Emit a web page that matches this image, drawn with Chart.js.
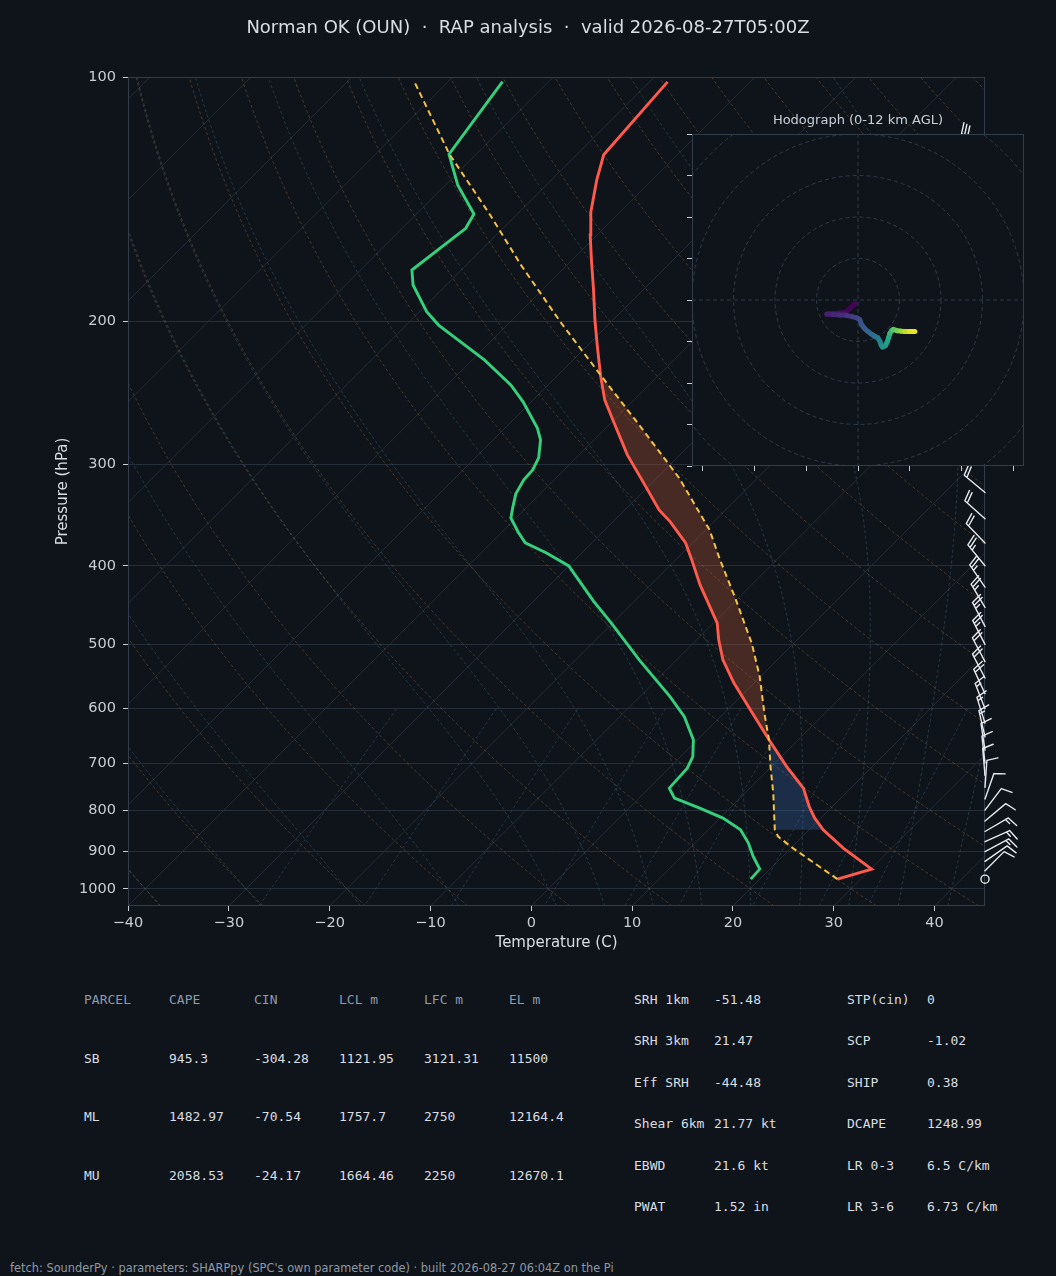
<!DOCTYPE html>
<html lang="en">
<head>
<meta charset="UTF-8" />
<title>Norman OK (OUN) sounding</title>
<script src="https://cdn.jsdelivr.net/npm/chart.js"></script>
<style>
  body { margin: 0; background: #0f141a; font-family: "DejaVu Sans", sans-serif; }
  #page { position: relative; width: 1056px; height: 1276px; overflow: hidden; background: #0f141a; }
  #skewt { position: absolute; left: 0; top: 0; }
  #hodo { position: absolute; left: 680px; top: 105px; }
  .title { position: absolute; left: 0; top: 16px; width: 1056px; text-align: center;
           font-size: 18px; line-height: 22px; color: #d9dee4; white-space: pre; }
  .hodo-title { position: absolute; left: 758px; top: 112px; width: 200px; text-align: center;
                font-size: 13px; line-height: 16px; color: #c9d0d8; }
  .cell { position: absolute; font-family: "DejaVu Sans Mono", monospace; font-size: 13px;
          line-height: 16px; color: #d9dee4; white-space: pre; }
  .head { color: #8b9bb0; }
  .footer { position: absolute; left: 10px; top: 1262px; font-size: 11.4px; line-height: 13px;
            color: #8e99a6; white-space: pre; }
</style>
</head>
<body>
<div id="page">
  <canvas id="skewt" width="1056" height="960"></canvas>
  <canvas id="hodo" width="350" height="370"></canvas>
  <div class="title">Norman OK (OUN)  ·  RAP analysis  ·  valid 2026-08-27T05:00Z</div>
  <div class="hodo-title">Hodograph (0-12 km AGL)</div>
  <div id="tables"></div>
  <div class="footer">fetch: SounderPy · parameters: SHARPpy (SPC's own parameter code) · built 2026-08-27 06:04Z on the Pi</div>
</div>

<script>
  // ---- sounding profile (hPa, deg C) ----
  const tempP = [972.9, 945.7, 891.0, 846.0, 818.4, 791.9, 751.6, 707.0, 655.4, 602.1, 558.0, 522.4, 493.6, 470.8,
                 422.3, 393.4, 374.9, 353.2, 341.4, 318.0, 292.1, 268.3, 249.9, 232.8, 213.8, 199.2, 183.0, 168.0,
                 156.5, 146.7, 133.9, 124.7, 101.4];
  const tempC = [27.7, 30.1, 25.2, 21.4, 19.4, 17.7, 15.3, 11.5, 7.1, 2.3, -2.0, -5.4, -7.8, -9.6,
                 -15.1, -18.4, -20.7, -24.3, -26.6, -30.5, -35.2, -39.4, -42.9, -45.8, -49.1, -51.8, -54.9, -58.1,
                 -60.7, -62.9, -65.5, -67.3, -68.2];

  const dewP = [972.9, 945.7, 912.5, 878.5, 846.0, 818.4, 795.5, 773.1, 751.6, 710.2, 687.2, 655.4, 613.6, 579.8,
                522.4, 470.8, 441.9, 418.8, 400.2, 385.7, 374.9, 363.4, 349.3, 338.5, 326.2, 313.5, 304.8, 294.6,
                279.9, 270.6, 251.3, 239.5, 223.1, 202.1, 194.6, 180.4, 172.9, 153.6, 147.5, 135.8, 124.5, 101.3];
  const dewC = [19.1, 19.0, 17.1, 15.3, 13.2, 10.3, 7.0, 3.5, 2.0, 1.8, 1.2, -0.4, -3.6, -7.0,
                -13.7, -20.1, -24.1, -27.3, -30.0, -33.5, -36.6, -38.4, -40.5, -41.4, -42.4, -43.0, -43.1, -43.7,
                -45.3, -46.8, -50.8, -53.7, -58.8, -66.8, -69.3, -73.3, -74.9, -73.7, -74.3, -78.8, -82.7, -84.6];

  // surface-based parcel path
  const parcelP = [972.9, 891.0, 862.3, 846.0, 762.2, 707.0, 655.4, 607.7, 547.7, 498.2, 436.6, 393.4, 361.4,
                   311.7, 268.3, 232.8, 200.4, 170.4, 147.9, 124.4, 101.6];
  const parcelC = [27.7, 20.2, 17.6, 16.6, 12.8, 9.9, 7.1, 4.0, -0.1, -4.2, -10.5, -15.6, -19.6,
                   -27.8, -37.0, -45.8, -55.0, -64.6, -72.6, -82.7, -93.2];
  const lclP = 846.0, lfcP = 655.4, elP = 232.8;

  // ---- winds (u, v in m/s, height km AGL) ----
  const windP = [973, 950, 925, 900, 875, 850, 825, 800, 775, 750, 725, 700, 675, 650, 625, 600, 575, 550,
                 525, 500, 475, 450, 425, 400, 375, 350, 325, 300, 275, 250, 225, 200, 175, 150, 122];
  const windH = [0, 0.21, 0.44, 0.67, 0.91, 1.16, 1.41, 1.66, 1.93, 2.2, 2.48, 2.77, 3.06, 3.37, 3.69, 4.02, 4.36, 4.71,
                 5.08, 5.46, 5.85, 6.26, 6.69, 7.15, 7.62, 8.12, 8.65, 9.22, 9.82, 10.47, 11.17, 11.95, 12.8, 13.8, 15.3];
  const windU = [-0.7, -3.0, -4.6, -6.2, -7.5, -6.0, -4.3, -2.8, -1.4, -0.3, 0.4, 0.6, 0.9, 1.6, 2.4, 3.2, 4.0, 4.8,
                 5.3, 5.6, 5.9, 6.6, 7.0, 7.4, 7.7, 8.2, 8.5, 9.4, 10.3, 11.2, 12.4, 13.7, 15.0, 16.0, 14.0];
  const windV = [-0.8, -3.0, -3.2, -3.3, -3.4, -3.5, -3.6, -3.7, -4.0, -4.3, -4.7, -5.2, -6.0, -6.9, -7.6, -8.2, -8.7, -9.2,
                 -10.0, -10.9, -11.3, -11.0, -10.2, -9.0, -8.0, -7.3, -7.1, -7.4, -7.5, -7.6, -7.6, -7.6, -7.0, -6.0, -8.0];

  // ---- ticks ----
  const pTicks = [100, 200, 300, 400, 500, 600, 700, 800, 900, 1000];
  const tTicks = [-40, -30, -20, -10, 0, 10, 20, 30, 40];
  const hodoXTicks = [-37.5, -25, -12.5, 0, 12.5, 25, 37.5];
  const hodoYTicks = [-40, -30, -20, -10, 0, 10, 20, 30, 40];
  const hodoRings = [10, 20, 30, 40, 50, 60];

  // ---- parameter tables ----
  const parcelHead = ['PARCEL', 'CAPE', 'CIN', 'LCL m', 'LFC m', 'EL m'];
  const parcelRows = [
    ['SB', '945.3', '-304.28', '1121.95', '3121.31', '11500'],
    ['ML', '1482.97', '-70.54', '1757.7', '2750', '12164.4'],
    ['MU', '2058.53', '-24.17', '1664.46', '2250', '12670.1']
  ];
  const kinParams = [['SRH 1km', '-51.48'], ['SRH 3km', '21.47'], ['Eff SRH', '-44.48'],
                     ['Shear 6km', '21.77 kt'], ['EBWD', '21.6 kt'], ['PWAT', '1.52 in']];
  const thermoParams = [['STP(cin)', '0'], ['SCP', '-1.02'], ['SHIP', '0.38'],
                        ['DCAPE', '1248.99'], ['LR 0-3', '6.5 C/km'], ['LR 3-6', '6.73 C/km']];

  // ---- skew-T geometry ----
  const xMin = -40, xMax = 45, pTop = 100, pBot = 1050;
  const SKEW = 82.2;  // deg C of x shift from bottom to top (45 degree isotherms)
  const skewX = (t, p) => t + SKEW * Math.log(pBot / p) / Math.log(pBot / pTop);
  const toPts = (P, T) => P.map((p, i) => ({ x: skewX(T[i], p), y: p }));
  const pLevels = Array.from({ length: 61 }, (_, k) => pBot * Math.pow(pTop / pBot, k / 60));

  function dewpointFromE(e) {
    const l = Math.log(e / 6.112);
    return 243.5 * l / (17.67 - l);
  }
  function moistDTdp(T, p) {
    const tc = T - 273.15;
    const es = 6.112 * Math.exp(17.67 * tc / (tc + 243.5));
    const rs = 0.622 * es / (p - es);
    const Rd = 287.04, Lv = 2.501e6, Cp = 1005.7;
    return (Rd * T + Lv * rs) / (Cp + Lv * Lv * rs * 0.622 / (Rd * T * T)) / p;
  }
  function moistT(t0, p) {
    let T = t0 + 273.15, q = 1000;
    const n = 60, h = (p - 1000) / n;
    for (let k = 0; k < n; k++) {
      const k1 = moistDTdp(T, q);
      const k2 = moistDTdp(T + h * k1 / 2, q + h / 2);
      const k3 = moistDTdp(T + h * k2 / 2, q + h / 2);
      const k4 = moistDTdp(T + h * k3, q + h);
      T += h * (k1 + 2 * k2 + 2 * k3 + k4) / 6;
      q += h;
    }
    return T - 273.15;
  }

  const skewGrid = {
    id: 'skewGrid',
    beforeDraw(chart) {
      const { ctx, width, height } = chart;
      ctx.save();
      ctx.fillStyle = '#0f141a';
      ctx.fillRect(0, 0, width, height);
      ctx.restore();
    },
    beforeDatasetsDraw(chart) {
      const { ctx, chartArea: a, scales: { x, y } } = chart;
      const px = (t, p) => [x.getPixelForValue(skewX(t, p)), y.getPixelForValue(p)];
      const curve = (fn, list) => {
        ctx.beginPath();
        list.forEach((p, k) => {
          const [X, Y] = px(fn(p), p);
          k ? ctx.lineTo(X, Y) : ctx.moveTo(X, Y);
        });
        ctx.stroke();
      };
      ctx.save();
      ctx.beginPath();
      ctx.rect(a.left, a.top, a.right - a.left, a.bottom - a.top);
      ctx.clip();
      ctx.lineWidth = 1;

      // isotherms
      ctx.strokeStyle = '#252c36';
      for (let t = -120; t <= 40; t += 10) curve(() => t, [pBot, pTop]);

      // dry adiabats
      ctx.strokeStyle = 'rgba(170,120,70,0.36)';
      ctx.setLineDash([3, 2.5]);
      for (let t0 = -40; t0 <= 250; t0 += 10) {
        curve(p => (t0 + 273.15) * Math.pow(p / 1000, 0.2857) - 273.15, pLevels);
      }

      // moist adiabats
      ctx.strokeStyle = 'rgba(70,130,150,0.34)';
      const moistStarts = [-40, -30, -20, -10, 0, 5, 10, 15, 20, 25, 30, 35, 40, 45];
      moistStarts.forEach(t0 => curve(p => moistT(t0, p), pLevels));

      // mixing ratio lines (g/kg), 1050 -> 600 hPa
      ctx.strokeStyle = 'rgba(70,120,170,0.32)';
      const mixP = Array.from({ length: 20 }, (_, k) => 600 + k * (pBot - 600) / 19);
      [0.4, 1, 2, 4, 7, 10, 16, 24, 32].forEach(w => curve(p => dewpointFromE(w * p / (622 + w)), mixP));
      ctx.setLineDash([]);

      // CIN / CAPE shading
      const seg = (P, T, hi, lo) => P.map((p, i) => [p, T[i]]).filter(([p]) => p <= hi + 0.01 && p >= lo - 0.01);
      const shade = (hi, lo, color) => {
        const path = seg(parcelP, parcelC, hi, lo).concat(seg(tempP, tempC, hi, lo).reverse());
        ctx.beginPath();
        path.forEach(([p, t], k) => {
          const [X, Y] = px(t, p);
          k ? ctx.lineTo(X, Y) : ctx.moveTo(X, Y);
        });
        ctx.closePath();
        ctx.fillStyle = color;
        ctx.fill();
      };
      shade(lclP, lfcP, 'rgba(60,120,200,0.26)');
      shade(lfcP, elP, 'rgba(220,100,60,0.28)');
      ctx.restore();
    },
    afterDraw(chart) {
      const { ctx, chartArea: a, scales: { y } } = chart;
      ctx.save();
      ctx.strokeStyle = '#323d4b';
      ctx.lineWidth = 1;
      ctx.strokeRect(a.left + 0.5, a.top + 0.5, a.right - a.left - 1, a.bottom - a.top - 1);

      // wind barbs (knots) along the right edge
      const L = 27, fh = 0.4 * L, fw = 0.25 * L, sp = 0.125 * L;
      ctx.strokeStyle = '#e6e9ee';
      ctx.fillStyle = '#e6e9ee';
      ctx.lineWidth = 1.4;
      ctx.lineJoin = 'round';
      ctx.lineCap = 'round';
      windP.forEach((p, i) => {
        const bx = a.right, by = y.getPixelForValue(p);
        const u = windU[i], v = windV[i];
        const ms = Math.hypot(u, v);
        let kt = 5 * Math.round(ms * 1.94384 / 5);
        if (kt === 0) {
          ctx.beginPath();
          ctx.arc(bx, by, 0.15 * L, 0, Math.PI * 2);
          ctx.stroke();
          return;
        }
        const dx = -u / ms, dy = v / ms;
        const nx = -dy, ny = dx;
        const tx = bx + dx * L, ty = by + dy * L;
        const flags = Math.floor(kt / 50); kt -= flags * 50;
        const full = Math.floor(kt / 10); kt -= full * 10;
        const half = kt >= 5;
        ctx.beginPath();
        ctx.moveTo(bx, by);
        ctx.lineTo(tx, ty);
        let off = 0;
        for (let k = 0; k < flags; k++) {
          const ax = tx - dx * off, ay = ty - dy * off;
          ctx.moveTo(ax, ay);
          ctx.lineTo(ax + nx * fh - dx * fw / 2, ay + ny * fh - dy * fw / 2);
          ctx.lineTo(ax - dx * fw, ay - dy * fw);
          ctx.fill();
          off += fw + sp;
        }
        for (let k = 0; k < full; k++) {
          const ax = tx - dx * off, ay = ty - dy * off;
          ctx.moveTo(ax, ay);
          ctx.lineTo(ax + nx * fh + dx * fw / 2, ay + ny * fh + dy * fw / 2);
          off += sp;
        }
        if (half) {
          if (flags === 0 && full === 0) off += 1.5 * sp;
          const ax = tx - dx * off, ay = ty - dy * off;
          ctx.moveTo(ax, ay);
          ctx.lineTo(ax + nx * fh / 2 + dx * fw / 4, ay + ny * fh / 2 + dy * fw / 4);
        }
        ctx.stroke();
      });
      ctx.restore();
    }
  };

  Chart.defaults.font.family = '"DejaVu Sans", sans-serif';

  const tickFont = { size: 14.5 };
  new Chart(document.getElementById('skewt'), {
    type: 'scatter',
    data: {
      datasets: [
        { data: toPts(parcelP, parcelC), showLine: true, borderColor: '#f4c244', borderWidth: 2,
          borderDash: [6, 4], pointRadius: 0 },
        { data: toPts(dewP, dewC), showLine: true, borderColor: '#36d07c', borderWidth: 2.9, pointRadius: 0 },
        { data: toPts(tempP, tempC), showLine: true, borderColor: '#ff5a4c', borderWidth: 2.9, pointRadius: 0 }
      ]
    },
    options: {
      responsive: false,
      animation: false,
      layout: { padding: { top: 77, right: 71, left: 0, bottom: 0 } },
      plugins: { legend: { display: false }, tooltip: { enabled: false } },
      scales: {
        x: {
          type: 'linear', min: xMin, max: xMax,
          afterBuildTicks: s => { s.ticks = tTicks.map(v => ({ value: v })); },
          afterFit: s => { s.height = 54; },
          grid: { drawOnChartArea: false, drawTicks: true, tickLength: 5, tickColor: '#c8ced6' },
          border: { display: false },
          ticks: { color: '#c8ced6', font: tickFont, padding: 4, autoSkip: false, maxRotation: 0,
                   callback: v => (v < 0 ? '\u2212' + Math.abs(v) : String(v)) },
          title: { display: true, text: 'Temperature (C)', color: '#d9dee4', font: { size: 15 }, padding: 8 }
        },
        y: {
          type: 'logarithmic', reverse: true, min: pTop, max: pBot,
          afterBuildTicks: s => { s.ticks = pTicks.map(v => ({ value: v })); },
          afterFit: s => { s.width = 128; },
          grid: { color: '#262e39', lineWidth: 1, tickLength: 5, tickColor: '#c8ced6' },
          border: { display: false },
          ticks: { color: '#c8ced6', font: tickFont, padding: 7, autoSkip: false, callback: v => String(v) },
          title: { display: true, text: 'Pressure (hPa)', color: '#d9dee4', font: { size: 15 }, padding: 54 }
        }
      }
    },
    plugins: [skewGrid]
  });

  // ---- hodograph ----
  const VIRIDIS = ['#440154', '#482475', '#414487', '#355f8d', '#2a788e', '#21918c',
                   '#22a884', '#44bf70', '#7ad151', '#bddf26', '#fde725'];
  function viridis(f) {
    f = Math.min(1, Math.max(0, f)) * 10;
    const i = Math.min(9, Math.floor(f)), t = f - i;
    const c = h => [1, 3, 5].map(k => parseInt(h.substr(k, 2), 16));
    const a = c(VIRIDIS[i]), b = c(VIRIDIS[i + 1]);
    return 'rgb(' + a.map((v, k) => Math.round(v + (b[k] - v) * t)).join(',') + ')';
  }
  const hodoIdx = windH.map((h, i) => i).filter(i => windH[i] <= 12);

  const hodoDeco = {
    id: 'hodoDeco',
    beforeDraw(chart) {
      const { ctx, chartArea: a } = chart;
      ctx.save();
      ctx.fillStyle = '#0f141a';
      ctx.fillRect(a.left, a.top, a.right - a.left, a.bottom - a.top);
      ctx.restore();
    },
    beforeDatasetsDraw(chart) {
      const { ctx, chartArea: a, scales: { x, y } } = chart;
      const cx = x.getPixelForValue(0), cy = y.getPixelForValue(0);
      ctx.save();
      ctx.beginPath();
      ctx.rect(a.left, a.top, a.right - a.left, a.bottom - a.top);
      ctx.clip();
      ctx.strokeStyle = '#2f3a47';
      ctx.lineWidth = 1;
      ctx.setLineDash([4, 3]);
      hodoRings.forEach(r => {
        ctx.beginPath();
        ctx.arc(cx, cy, x.getPixelForValue(r) - cx, 0, Math.PI * 2);
        ctx.stroke();
      });
      ctx.beginPath();
      ctx.moveTo(a.left, cy); ctx.lineTo(a.right, cy);
      ctx.moveTo(cx, a.top); ctx.lineTo(cx, a.bottom);
      ctx.stroke();
      ctx.restore();
    },
    afterDraw(chart) {
      const { ctx, chartArea: a } = chart;
      ctx.save();
      ctx.strokeStyle = '#323d4b';
      ctx.lineWidth = 1;
      ctx.strokeRect(a.left + 0.5, a.top + 0.5, a.right - a.left - 1, a.bottom - a.top - 1);
      ctx.restore();
    }
  };

  new Chart(document.getElementById('hodo'), {
    type: 'scatter',
    data: {
      datasets: [{
        data: hodoIdx.map(i => ({ x: windU[i], y: windV[i] })),
        showLine: true, borderWidth: 5, pointRadius: 0, borderColor: '#414487',
        borderCapStyle: 'round', borderJoinStyle: 'round',
        segment: {
          borderColor: c => viridis((windH[hodoIdx[c.p0DataIndex]] + windH[hodoIdx[c.p1DataIndex]]) / 24)
        }
      }]
    },
    options: {
      responsive: false,
      animation: false,
      layout: { padding: { top: 29, right: 6, left: 0, bottom: 0 } },
      plugins: { legend: { display: false }, tooltip: { enabled: false } },
      scales: {
        x: {
          type: 'linear', min: -40, max: 40,
          afterBuildTicks: s => { s.ticks = hodoXTicks.map(v => ({ value: v })); },
          afterFit: s => { s.height = 9; },
          grid: { drawOnChartArea: false, tickLength: 5, tickColor: '#c8ced6' },
          border: { display: false },
          ticks: { callback: () => '', padding: 0 }
        },
        y: {
          type: 'linear', min: -40, max: 40,
          afterBuildTicks: s => { s.ticks = hodoYTicks.map(v => ({ value: v })); },
          afterFit: s => { s.width = 12; },
          grid: { drawOnChartArea: false, tickLength: 5, tickColor: '#c8ced6' },
          border: { display: false },
          ticks: { callback: () => '', padding: 0 }
        }
      }
    },
    plugins: [hodoDeco]
  });

  // ---- tables ----
  const tables = document.getElementById('tables');
  function cell(text, left, yc, cls) {
    const d = document.createElement('div');
    d.className = 'cell' + (cls ? ' ' + cls : '');
    d.textContent = text;
    d.style.left = left + 'px';
    d.style.top = (yc - 8) + 'px';
    tables.appendChild(d);
  }
  parcelHead.forEach((t, j) => cell(t, 84 + 85 * j, 1000, 'head'));
  parcelRows.forEach((row, i) => row.forEach((t, j) => cell(t, 84 + 85 * j, 1058.5 + 58.8 * i)));
  kinParams.forEach(([k, v], i) => { cell(k, 634, 1000 + 41.4 * i); cell(v, 714, 1000 + 41.4 * i); });
  thermoParams.forEach(([k, v], i) => { cell(k, 847, 1000 + 41.4 * i); cell(v, 927, 1000 + 41.4 * i); });
</script>
</body>
</html>
